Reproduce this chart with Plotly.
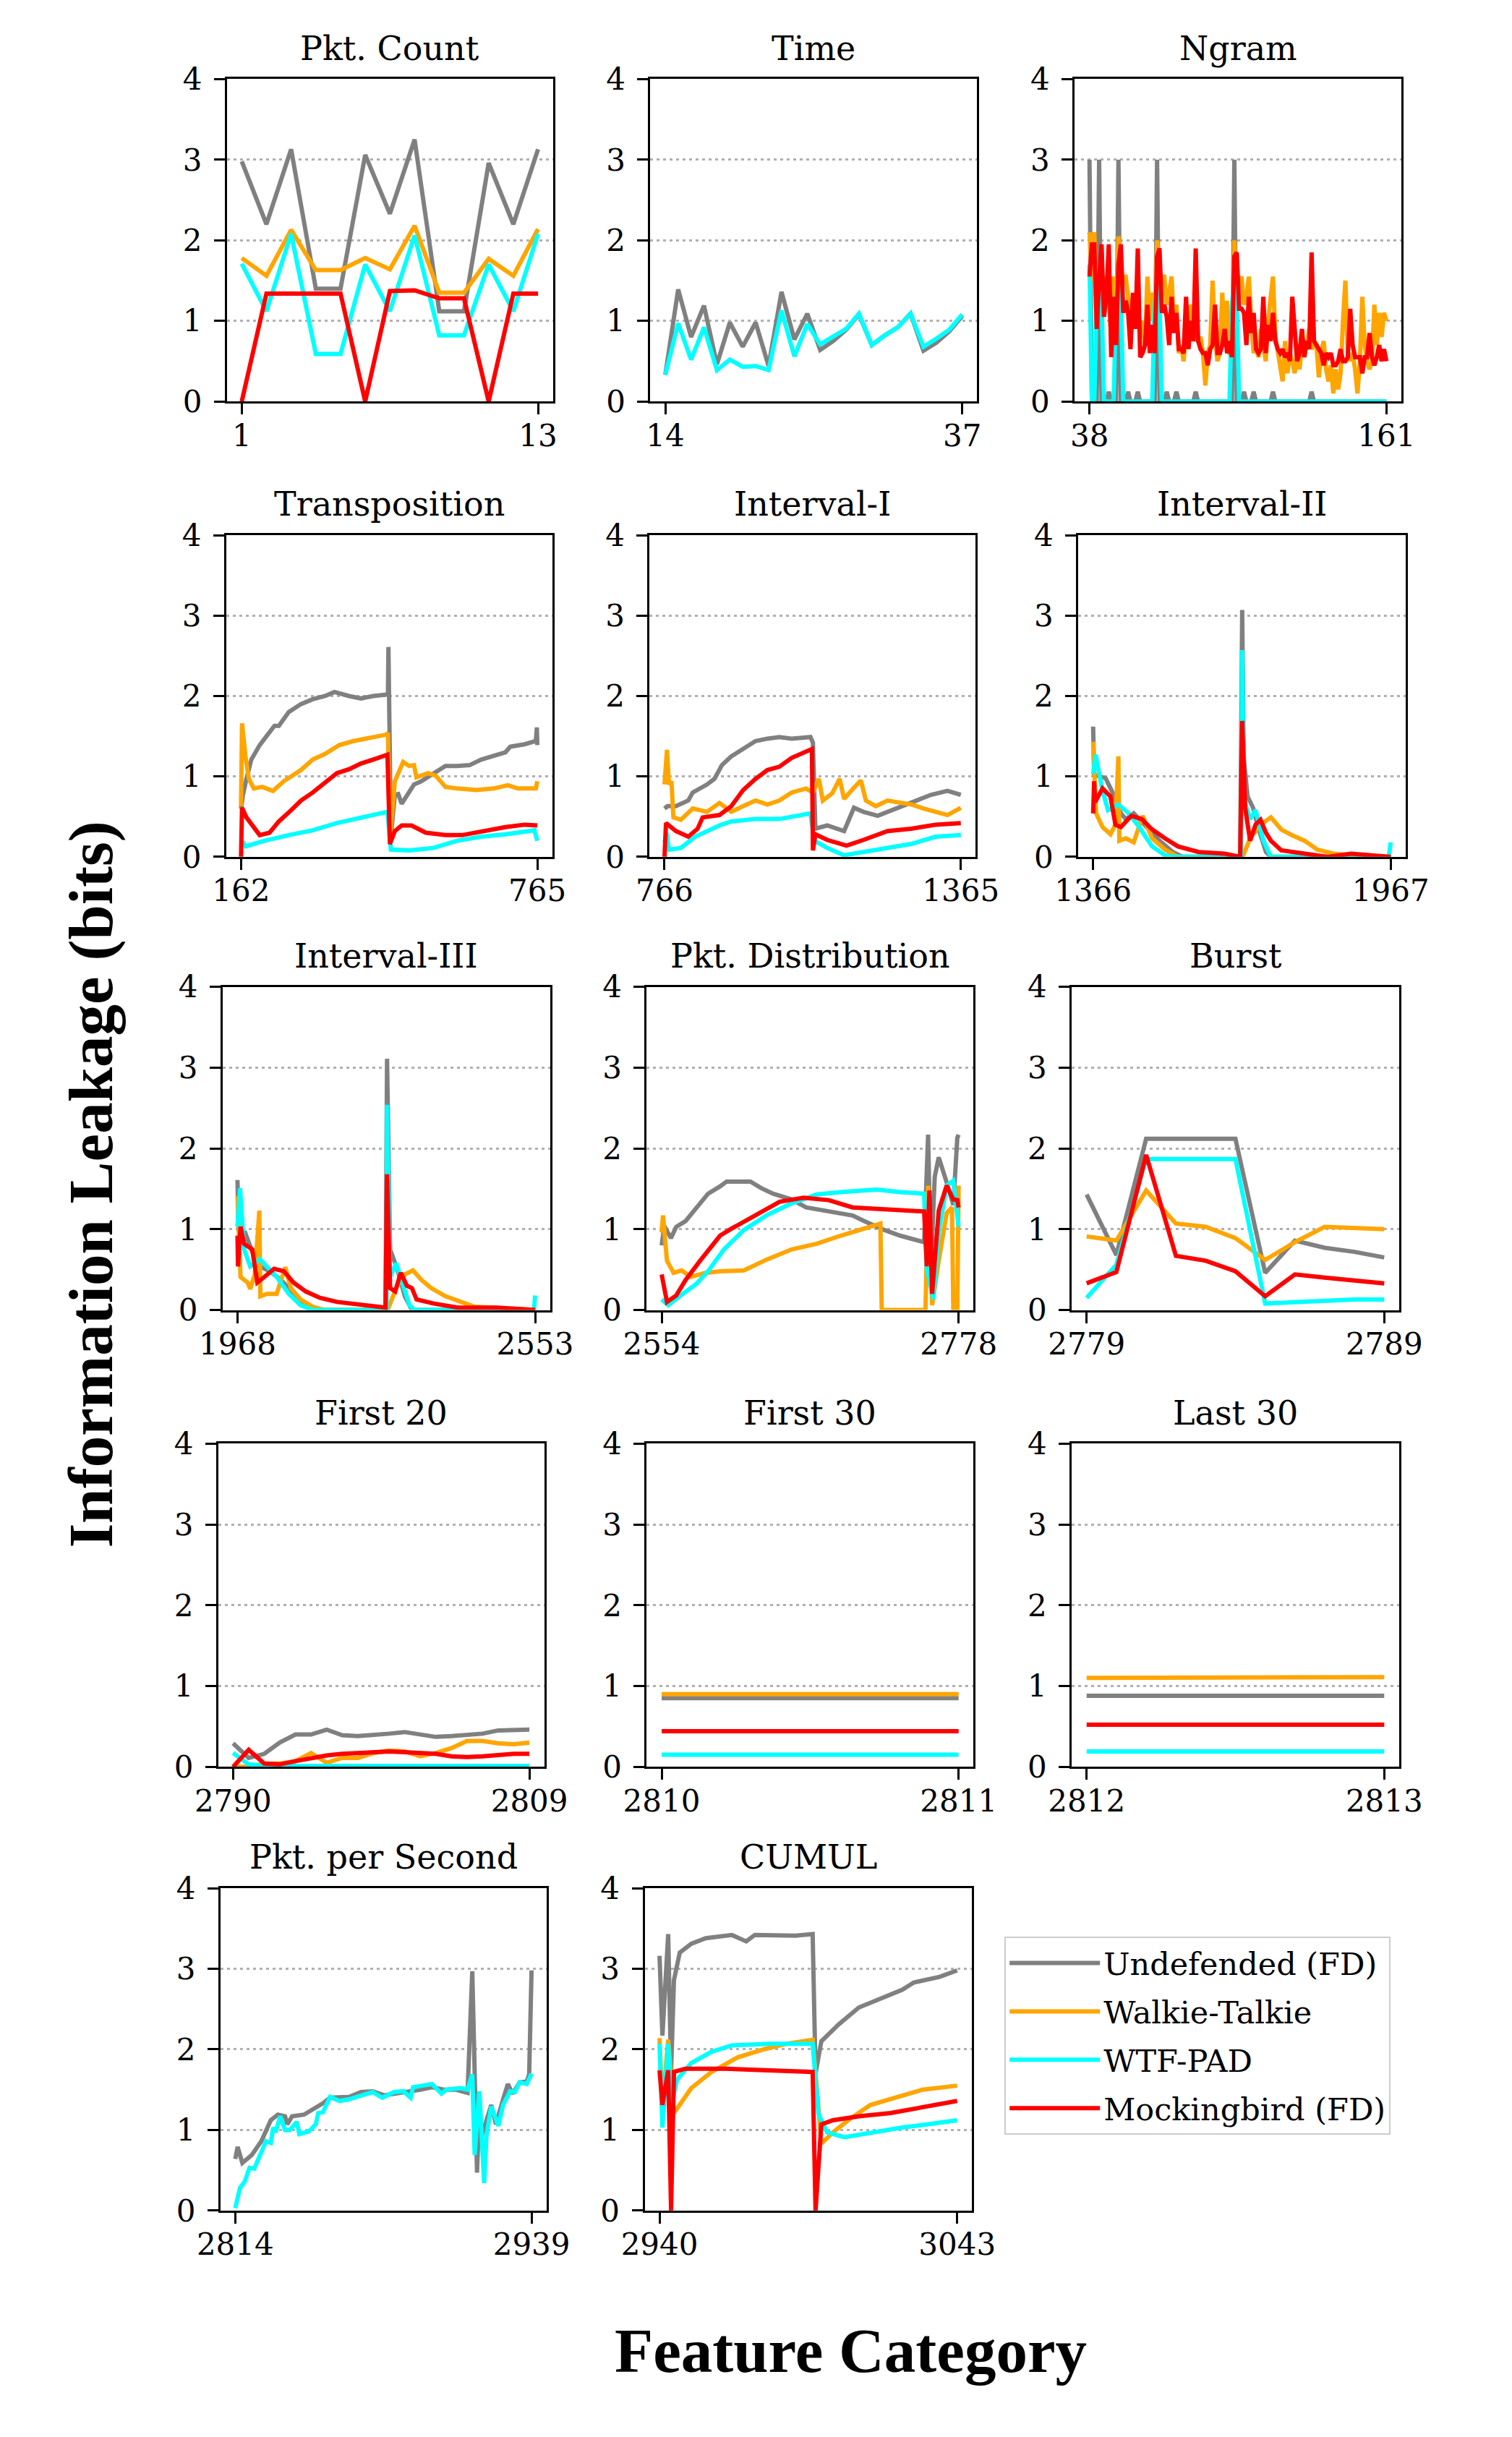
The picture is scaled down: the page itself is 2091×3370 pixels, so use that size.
import plotly.graph_objects as go

W, H = 2091, 3370
NAMES = ['Undefended (FD)', 'Walkie-Talkie', 'WTF-PAD', 'Mockingbird (FD)']
COLORS = ['#808080', '#FFA500', '#00FFFF', '#FF0000']

# ---------------- data ----------------
# Pkt. Count
pc_x = list(range(1, 14))
pc_undef = [2.98, 2.20, 3.13, 1.40, 1.40, 3.06, 2.33, 3.25, 1.12, 1.12, 2.96, 2.20, 3.13]
pc_wt = [1.78, 1.56, 2.13, 1.63, 1.63, 1.78, 1.64, 2.18, 1.35, 1.35, 1.77, 1.56, 2.14]
pc_wtf = [1.71, 1.12, 2.08, 0.59, 0.59, 1.70, 1.12, 2.06, 0.82, 0.82, 1.70, 1.12, 2.08]
pc_mb = [0.00, 1.34, 1.34, 1.34, 1.34, 0.00, 1.37, 1.38, 1.28, 1.28, 0.00, 1.34, 1.34]

# Time
tm_x = list(range(14, 38))
tm_undef = [0.33, 1.39, 0.80, 1.19, 0.46, 0.98, 0.68, 0.98, 0.44, 1.36, 0.77, 1.09,
            0.64, 0.75, 0.89, 1.08, 0.70, 0.82, 0.92, 1.09, 0.63, 0.73, 0.87, 1.06]
tm_wtf = [0.33, 0.97, 0.52, 0.92, 0.39, 0.52, 0.43, 0.44, 0.39, 1.13, 0.56, 0.96,
          0.71, 0.80, 0.90, 1.09, 0.70, 0.82, 0.92, 1.09, 0.68, 0.78, 0.89, 1.08]

# Ngram
ng_x = list(range(38, 162))
ng_undef = [3, 0, 0, 0, 3, 0, 0, 0, 0.12, 0,
            0, 0, 3, 0, 0, 0, 0.12, 0, 0, 0,
            0.12, 0, 0, 0, 0, 0, 0, 0, 3, 0,
            0, 0, 0.12, 0, 0, 0, 0.12, 0, 0, 0,
            0, 0, 0, 0, 0.12, 0, 0, 0, 0, 0,
            0, 0, 0, 0, 0, 0, 0, 0, 0, 0,
            3, 0, 0, 0, 0.12, 0, 0, 0, 0.12, 0,
            0, 0, 0, 0, 0, 0, 0.12, 0, 0, 0,
            0, 0, 0, 0, 0, 0, 0, 0, 0, 0,
            0, 0, 0.12, 0, 0, 0, 0, 0, 0, 0,
            0, 0, 0, 0, 0, 0, 0, 0, 0, 0,
            0, 0, 0, 0, 0, 0, 0, 0, 0, 0,
            0, 0, 0, 0]
ng_wt = [2.10, 1.50, 2.10, 1.20, 1.60, 1.30, 1.10, 1.55, 1.30, 0.80,
         1.55, 1.00, 2.05, 1.50, 1.55, 1.55, 1.30, 0.70, 1.30, 1.10,
         1.20, 0.80, 1.00, 0.70, 1.55, 1.00, 1.35, 0.80, 2.00, 1.60,
         1.55, 1.55, 1.20, 1.35, 1.55, 0.90, 1.20, 0.60, 0.70, 0.50,
         0.90, 0.70, 1.20, 0.75, 0.80, 0.75, 0.80, 0.60, 0.20, 0.60,
         0.70, 1.50, 0.80, 0.50, 0.60, 1.35, 0.70, 1.25, 0.60, 0.60,
         2.00, 1.30, 1.50, 1.55, 1.20, 1.30, 1.55, 1.00, 0.60, 0.70,
         0.55, 0.90, 0.70, 0.50, 1.00, 1.30, 1.55, 0.80, 0.60, 0.40,
         0.25, 0.75, 0.35, 0.60, 0.50, 0.35, 0.60, 0.40, 0.70, 0.60,
         0.70, 0.90, 0.65, 0.70, 0.70, 0.30, 0.60, 0.75, 0.40, 0.25,
         0.45, 0.10, 0.40, 0.15, 0.35, 1.00, 1.50, 0.60, 0.50, 0.60,
         0.40, 0.10, 0.50, 1.30, 0.70, 0.50, 0.40, 0.50, 1.20, 0.70,
         1.10, 0.80, 1.10, 1.00]
ng_wtf = [1.70, 0, 0, 1.30, 1.50, 1.30, 0, 0, 0, 0,
          0, 1.20, 1.50, 1.30, 0, 0, 0, 0, 0, 0,
          0, 0, 0, 0, 0, 0, 0, 1.20, 1.50, 1.20,
          0, 0, 0, 0, 0, 0, 0, 0, 0, 0,
          0, 0, 0, 0, 0, 0, 0, 0, 0, 0,
          0, 0, 0, 0, 0, 0, 0, 0, 0, 1.20,
          1.50, 1.20, 0, 0, 0, 0, 0, 0, 0, 0,
          0, 0, 0, 0, 0, 0, 0, 0, 0, 0,
          0, 0, 0, 0, 0, 0, 0, 0, 0, 0,
          0, 0, 0, 0, 0, 0, 0, 0, 0, 0,
          0, 0, 0, 0, 0, 0, 0, 0, 0, 0,
          0, 0, 0, 0, 0, 0, 0, 0, 0, 0,
          0, 0, 0, 0]
ng_mb = [1.55, 1.95, 1.95, 0.90, 1.50, 1.95, 1.05, 1.30, 1.95, 0.55,
         1.30, 0.70, 1.70, 1.95, 1.10, 1.25, 1.10, 0.65, 1.35, 0.90,
         1.90, 0.55, 0.60, 0.70, 1.20, 0.60, 0.95, 0.60, 1.80, 1.90,
         1.10, 1.20, 1.05, 0.70, 1.30, 0.85, 1.10, 0.65, 0.65, 0.60,
         1.30, 0.65, 1.00, 0.75, 1.90, 0.75, 0.65, 0.60, 0.60, 0.45,
         0.65, 0.70, 1.20, 0.60, 0.60, 0.70, 0.90, 0.60, 0.75, 0.55,
         1.80, 1.85, 1.15, 1.15, 1.10, 0.70, 1.30, 0.85, 1.10, 0.65,
         0.60, 0.65, 1.30, 0.60, 0.95, 0.75, 1.10, 0.75, 0.65, 0.60,
         0.65, 0.55, 0.60, 0.50, 1.30, 0.85, 0.50, 0.60, 0.90, 0.55,
         0.75, 0.65, 1.85, 0.75, 0.70, 0.65, 0.60, 0.45, 0.60, 0.55,
         0.60, 0.45, 0.45, 0.50, 0.65, 0.50, 0.50, 0.55, 1.15, 0.70,
         0.55, 0.55, 0.55, 0.35, 0.55, 0.55, 0.85, 0.55, 0.45, 0.55,
         0.70, 0.50, 0.65, 0.50]

# Transposition
tr_undef_x = [162, 166, 173, 183, 200, 230, 239, 259, 284, 308, 333, 352, 382, 406, 431, 458, 461, 462, 467, 475,
              482, 489, 504, 514, 529, 553, 578, 602, 627, 651, 676, 700, 710, 739, 762, 764, 765]
tr_undef_y = [0.60, 0.77, 0.97, 1.21, 1.39, 1.63, 1.63, 1.80, 1.90, 1.96, 2.00, 2.05, 2.00, 1.97, 2.00, 2.02, 2.02, 2.61, 0.25, 0.77,
              0.78, 0.66, 0.80, 0.90, 0.94, 1.04, 1.13, 1.13, 1.14, 1.21, 1.25, 1.30, 1.37, 1.40, 1.44, 1.61, 1.39]
tr_wt_x = [162, 164, 171, 178, 188, 205, 227, 249, 284, 308, 333, 362, 391, 431, 458, 461, 465, 475, 492, 504,
           514, 519, 543, 558, 578, 602, 641, 676, 705, 725, 762, 765]
tr_wt_y = [0.63, 1.66, 1.25, 0.97, 0.85, 0.87, 0.82, 0.94, 1.08, 1.21, 1.28, 1.39, 1.44, 1.49, 1.52, 1.54, 0.21, 0.94, 1.18, 1.13,
           1.14, 0.99, 1.04, 1.01, 0.87, 0.85, 0.83, 0.85, 0.89, 0.85, 0.85, 0.94]
tr_wtf_x = [162, 166, 171, 210, 259, 308, 357, 406, 460, 467, 504, 553, 602, 651, 700, 759, 765]
tr_wtf_y = [0.20, 0.18, 0.13, 0.20, 0.27, 0.33, 0.42, 0.49, 0.56, 0.09, 0.08, 0.11, 0.20, 0.25, 0.28, 0.33, 0.20]
tr_mb_x = [162, 164, 173, 186, 200, 220, 239, 264, 284, 308, 328, 357, 382, 406, 431, 460, 465, 475, 489, 509,
           538, 578, 612, 651, 700, 739, 762, 765]
tr_mb_y = [0.00, 0.61, 0.49, 0.39, 0.27, 0.30, 0.44, 0.58, 0.70, 0.80, 0.90, 1.04, 1.09, 1.16, 1.21, 1.27, 0.16, 0.32, 0.39, 0.39,
           0.30, 0.27, 0.27, 0.32, 0.37, 0.40, 0.40, 0.39]

# Interval-I
i1_undef_x = [766, 772, 789, 814, 823, 852, 867, 882, 901, 925, 950, 974, 998, 1023, 1061, 1066, 1071, 1095, 1129, 1149,
              1168, 1197, 1217, 1265, 1304, 1338, 1365]
i1_undef_y = [0.60, 0.63, 0.63, 0.70, 0.80, 0.90, 0.97, 1.14, 1.25, 1.35, 1.44, 1.47, 1.49, 1.47, 1.49, 1.42, 0.35, 0.39, 0.32, 0.61,
              0.56, 0.51, 0.56, 0.68, 0.77, 0.82, 0.77]
i1_wt_x = [766, 771, 775, 780, 784, 799, 823, 852, 877, 901, 925, 950, 974, 998, 1023, 1052, 1066, 1078, 1086, 1105,
           1120, 1129, 1149, 1163, 1173, 1193, 1217, 1241, 1266, 1290, 1314, 1338, 1365]
i1_wt_y = [0.90, 1.33, 0.90, 0.94, 0.49, 0.46, 0.60, 0.56, 0.67, 0.56, 0.63, 0.70, 0.65, 0.70, 0.80, 0.85, 0.80, 0.97, 0.70, 0.79,
           0.97, 0.72, 0.86, 0.95, 0.70, 0.63, 0.70, 0.67, 0.65, 0.60, 0.56, 0.52, 0.61]
i1_wtf_x = [766, 770, 775, 799, 828, 852, 877, 901, 950, 998, 1061, 1069, 1095, 1129, 1168, 1217, 1265, 1314, 1365]
i1_wtf_y = [0.18, 0.30, 0.09, 0.11, 0.25, 0.32, 0.39, 0.44, 0.47, 0.47, 0.54, 0.20, 0.11, 0.02, 0.06, 0.11, 0.16, 0.25, 0.27]
i1_mb_x = [766, 769, 789, 814, 833, 843, 877, 901, 925, 950, 974, 998, 1023, 1047, 1064, 1066, 1071, 1095, 1134, 1168,
           1217, 1265, 1314, 1365]
i1_mb_y = [0.00, 0.42, 0.32, 0.25, 0.35, 0.49, 0.52, 0.63, 0.83, 0.97, 1.08, 1.12, 1.23, 1.29, 1.34, 0.08, 0.28, 0.21, 0.14, 0.21,
           0.32, 0.35, 0.40, 0.42]

# Interval-II
i2_undef_x = [1366, 1368, 1391, 1406, 1422, 1432, 1448, 1474, 1500, 1527, 1547, 1663, 1667, 1670, 1678, 1689, 1699, 1715, 1725, 1967]
i2_undef_y = [1.62, 1.02, 0.98, 0.79, 0.54, 0.47, 0.54, 0.37, 0.20, 0.06, 0.00, 0.00, 3.07, 1.24, 0.75, 0.61, 0.37, 0.06, 0.00, 0.00]
i2_wt_x = [1366, 1372, 1385, 1401, 1411, 1417, 1419, 1432, 1448, 1466, 1485, 1511, 1537, 1668, 1683, 1704, 1725, 1746, 1767, 1793,
           1819, 1851, 1893, 1967]
i2_wt_y = [1.43, 0.54, 0.37, 0.28, 0.40, 1.25, 0.20, 0.23, 0.18, 0.51, 0.23, 0.09, 0.00, 0.00, 0.23, 0.40, 0.49, 0.34, 0.27, 0.20,
           0.09, 0.04, 0.02, 0.00]
i2_wtf_x = [1366, 1371, 1385, 1396, 1417, 1438, 1459, 1485, 1511, 1532, 1665, 1667, 1670, 1683, 1694, 1710, 1725, 1963, 1967]
i2_wtf_y = [1.03, 1.27, 0.82, 0.58, 0.65, 0.54, 0.37, 0.13, 0.02, 0.00, 0.00, 2.57, 0.72, 0.47, 0.58, 0.20, 0.00, 0.00, 0.18]
i2_mb_x = [1366, 1368, 1370, 1385, 1401, 1411, 1422, 1443, 1464, 1485, 1511, 1537, 1579, 1631, 1663, 1667, 1673, 1683, 1694, 1704,
           1715, 1725, 1746, 1788, 1840, 1887, 1967]
i2_mb_y = [0.54, 0.94, 0.68, 0.85, 0.75, 0.40, 0.37, 0.51, 0.47, 0.34, 0.23, 0.13, 0.06, 0.04, 0.00, 1.69, 0.61, 0.20, 0.40, 0.46,
           0.30, 0.20, 0.08, 0.04, 0.00, 0.04, 0.00]

# Interval-III
i3_undef_x = [1968, 1970, 1983, 1997, 2012, 2031, 2054, 2083, 2107, 2130, 2259, 2262, 2268, 2282, 2297, 2311, 2553]
i3_undef_y = [1.61, 0.99, 0.96, 0.72, 0.54, 0.48, 0.37, 0.17, 0.03, 0.00, 0.00, 3.11, 0.75, 0.51, 0.17, 0.00, 0.00]
i3_wt_x = [1968, 1974, 1988, 1993, 2002, 2011, 2013, 2026, 2045, 2062, 2073, 2092, 2116, 2140, 2263, 2282, 2297, 2313, 2330, 2349,
           2377, 2406, 2434, 2472, 2553]
i3_wt_y = [1.41, 0.41, 0.34, 0.26, 0.44, 1.23, 0.17, 0.20, 0.20, 0.53, 0.27, 0.13, 0.04, 0.00, 0.00, 0.30, 0.44, 0.49, 0.37, 0.27,
           0.17, 0.10, 0.04, 0.03, 0.00]
i3_wtf_x = [1968, 1973, 1981, 1993, 2012, 2026, 2045, 2069, 2092, 2116, 2261, 2262, 2268, 2280, 2292, 2306, 2316, 2551, 2553]
i3_wtf_y = [1.03, 1.51, 0.75, 0.54, 0.63, 0.54, 0.41, 0.20, 0.06, 0.00, 0.00, 2.54, 0.41, 0.58, 0.34, 0.06, 0.00, 0.00, 0.18]
i3_mb_x = [1968, 1969, 1974, 1981, 1997, 2007, 2021, 2040, 2059, 2078, 2102, 2130, 2164, 2211, 2259, 2262, 2268, 2278, 2289, 2301,
           2311, 2320, 2354, 2401, 2477, 2553]
i3_mb_y = [0.92, 0.54, 1.03, 0.82, 0.75, 0.34, 0.41, 0.51, 0.48, 0.34, 0.23, 0.15, 0.10, 0.06, 0.03, 1.68, 0.27, 0.23, 0.46, 0.30,
           0.27, 0.13, 0.08, 0.03, 0.03, 0.00]

# Pkt. Distribution
pd_undef_x = [2554, 2556, 2561, 2565, 2572, 2580, 2589, 2598, 2603, 2621, 2629, 2638, 2652, 2663, 2680, 2698, 2707, 2722, 2734, 2752,
              2755, 2757, 2760, 2763, 2769, 2774, 2777, 2778]
pd_undef_y = [0.80, 1.04, 0.89, 1.03, 1.10, 1.27, 1.44, 1.53, 1.59, 1.59, 1.51, 1.44, 1.37, 1.27, 1.22, 1.17, 1.10, 0.99, 0.92, 0.84,
              2.17, 0.51, 1.65, 1.89, 1.58, 1.30, 2.13, 2.17]
pd_wt_x = [2554, 2555, 2558, 2563, 2569, 2576, 2587, 2598, 2616, 2634, 2652, 2671, 2689, 2707, 2719, 2720, 2753, 2755, 2758, 2763,
           2769, 2773, 2774, 2777, 2778]
pd_wt_y = [0.96, 1.17, 0.61, 0.46, 0.49, 0.41, 0.46, 0.48, 0.49, 0.63, 0.75, 0.82, 0.92, 1.01, 1.07, 0.00, 0.00, 1.54, 0.06, 0.61,
           1.20, 1.27, 0.00, 0.00, 1.54]
pd_wtf_x = [2554, 2559, 2570, 2580, 2589, 2601, 2616, 2634, 2652, 2671, 2689, 2716, 2734, 2752, 2754, 2759, 2763, 2769, 2774, 2778]
pd_wtf_y = [0.13, 0.06, 0.20, 0.32, 0.48, 0.75, 0.99, 1.18, 1.32, 1.43, 1.46, 1.49, 1.46, 1.44, 0.51, 0.13, 0.96, 1.54, 1.60, 1.03]
pd_mb_x = [2554, 2558, 2565, 2572, 2583, 2598, 2607, 2625, 2643, 2661, 2680, 2698, 2716, 2734, 2752, 2754, 2756, 2758, 2763, 2769,
           2774, 2777, 2778]
pd_mb_y = [0.44, 0.10, 0.18, 0.37, 0.61, 0.92, 1.01, 1.17, 1.34, 1.39, 1.36, 1.27, 1.25, 1.23, 1.22, 0.54, 1.48, 0.20, 1.23, 1.54,
           1.37, 1.36, 1.27]

# Burst
bu_x = list(range(2779, 2790))
bu_undef = [1.43, 0.68, 2.12, 2.12, 2.12, 2.12, 0.46, 0.86, 0.77, 0.72, 0.65]
bu_wt = [0.91, 0.86, 1.48, 1.07, 1.03, 0.89, 0.62, 0.84, 1.03, 1.02, 1.00]
bu_wtf = [0.15, 0.56, 1.87, 1.87, 1.87, 1.87, 0.08, 0.10, 0.12, 0.13, 0.13]
bu_mb = [0.33, 0.47, 1.92, 0.67, 0.61, 0.48, 0.17, 0.44, 0.40, 0.37, 0.33]

# First 20
f20_x = list(range(2790, 2810))
f20_undef = [0.29, 0.11, 0.16, 0.30, 0.40, 0.40, 0.46, 0.39, 0.38, 0.39,
             0.41, 0.43, 0.40, 0.37, 0.38, 0.39, 0.41, 0.45, 0.46, 0.46]
f20_wt = [0.00, 0.00, 0.04, 0.04, 0.07, 0.17, 0.05, 0.11, 0.11, 0.17,
          0.20, 0.19, 0.13, 0.17, 0.23, 0.32, 0.32, 0.29, 0.28, 0.30]
f20_wtf = [0.17, 0.03, 0.01, 0.01, 0.01, 0.01, 0.01, 0.01, 0.01, 0.01,
           0.01, 0.01, 0.01, 0.01, 0.01, 0.01, 0.01, 0.01, 0.01, 0.01]
f20_mb = [0.00, 0.21, 0.04, 0.03, 0.07, 0.11, 0.14, 0.16, 0.17, 0.18,
          0.19, 0.18, 0.17, 0.16, 0.13, 0.12, 0.13, 0.15, 0.16, 0.16]

# First 30
f30_x = [2810, 2811]
f30_undef = [0.85, 0.85]
f30_wt = [0.90, 0.90]
f30_wtf = [0.15, 0.15]
f30_mb = [0.44, 0.44]

# Last 30
l30_x = [2812, 2813]
l30_undef = [0.88, 0.88]
l30_wt = [1.10, 1.11]
l30_wtf = [0.19, 0.19]
l30_mb = [0.52, 0.52]

# Pkt. per Second
pps_undef_x = [2814, 2815, 2817, 2821, 2825, 2827, 2829, 2832, 2835, 2836, 2838, 2843, 2846, 2851, 2854, 2862, 2867, 2872, 2877, 2882,
               2887, 2892, 2897, 2902, 2907, 2912, 2914, 2915, 2916, 2917, 2918, 2922, 2924, 2927, 2929, 2931, 2934, 2937, 2938, 2939]
pps_undef_y = [0.64, 0.79, 0.59, 0.69, 0.86, 0.98, 1.12, 1.19, 1.17, 1.07, 1.17, 1.19, 1.24, 1.33, 1.40, 1.41, 1.47, 1.48, 1.43, 1.45,
               1.47, 1.50, 1.53, 1.50, 1.50, 1.46, 2.97, 1.55, 0.47, 1.28, 0.93, 1.31, 1.07, 1.38, 1.57, 1.45, 1.59, 1.60, 1.69, 2.98]
pps_wtf_x = [2814, 2816, 2818, 2820, 2822, 2825, 2827, 2829, 2830, 2831, 2833, 2835, 2837, 2840, 2841, 2845, 2848, 2849, 2851, 2854,
             2858, 2862, 2867, 2872, 2876, 2881, 2885, 2888, 2889, 2892, 2897, 2901, 2903, 2909, 2912, 2914, 2915, 2917, 2919, 2920,
             2922, 2925, 2927, 2930, 2932, 2934, 2937, 2939]
pps_wtf_y = [0.03, 0.28, 0.36, 0.53, 0.52, 0.72, 0.86, 0.84, 1.03, 0.97, 1.17, 1.00, 1.00, 1.10, 0.95, 0.98, 1.07, 1.21, 1.22, 1.41,
             1.36, 1.38, 1.43, 1.47, 1.40, 1.47, 1.48, 1.40, 1.53, 1.55, 1.57, 1.45, 1.50, 1.52, 1.50, 1.69, 0.69, 1.48, 0.34, 0.93,
             1.29, 1.05, 1.31, 1.48, 1.47, 1.59, 1.57, 1.70]

# CUMUL
cu_undef_x = [2940, 2941, 2943, 2944, 2945, 2947, 2951, 2956, 2965, 2970, 2973, 2987, 2993, 2994, 2996, 3002, 3009, 3018, 3024, 3028,
              3037, 3043]
cu_undef_y = [3.16, 2.17, 3.43, 1.72, 2.86, 3.20, 3.31, 3.38, 3.42, 3.34, 3.42, 3.41, 3.43, 1.70, 2.10, 2.31, 2.52, 2.66, 2.74, 2.83,
              2.90, 2.98]
cu_wt_x = [2940, 2941, 2943, 2944, 2945, 2951, 2958, 2967, 2976, 2984, 2993, 2995, 2996, 3000, 3006, 3013, 3022, 3031, 3043]
cu_wt_y = [2.14, 1.28, 2.12, 1.60, 1.21, 1.52, 1.72, 1.90, 2.00, 2.07, 2.12, 1.28, 0.83, 0.97, 1.14, 1.31, 1.41, 1.50, 1.55]
cu_wtf_x = [2940, 2941, 2943, 2944, 2946, 2951, 2958, 2965, 2978, 2993, 2995, 2998, 3004, 3013, 3024, 3033, 3043]
cu_wtf_y = [2.07, 1.03, 2.07, 1.28, 1.62, 1.83, 1.97, 2.05, 2.07, 2.07, 1.20, 0.97, 0.91, 0.97, 1.03, 1.07, 1.12]
cu_mb_x = [2940, 2941, 2943, 2944, 2945, 2949, 2963, 2982, 2993, 2994, 2996, 3000, 3009, 3020, 3031, 3043]
cu_mb_y = [1.74, 1.31, 1.74, 0.00, 1.72, 1.76, 1.76, 1.74, 1.72, 0.00, 1.07, 1.12, 1.17, 1.21, 1.28, 1.36]

TITLES = ['Pkt. Count', 'Time', 'Ngram', 'Transposition', 'Interval-I', 'Interval-II',
          'Interval-III', 'Pkt. Distribution', 'Burst', 'First 20', 'First 30', 'Last 30',
          'Pkt. per Second', 'CUMUL']
X_ENDS = [(1, 13), (14, 37), (38, 161), (162, 765), (766, 1365), (1366, 1967),
          (1968, 2553), (2554, 2778), (2779, 2789), (2790, 2809), (2810, 2811), (2812, 2813),
          (2814, 2939), (2940, 3043)]
Y_TICKS = [0, 1, 2, 3, 4]

# series per panel: (series index, x, y)
SERIES = [
    [(0, pc_x, pc_undef), (1, pc_x, pc_wt), (2, pc_x, pc_wtf), (3, pc_x, pc_mb)],
    [(0, tm_x, tm_undef), (2, tm_x, tm_wtf)],
    [(0, ng_x, ng_undef), (1, ng_x, ng_wt), (2, ng_x, ng_wtf), (3, ng_x, ng_mb)],
    [(0, tr_undef_x, tr_undef_y), (1, tr_wt_x, tr_wt_y), (2, tr_wtf_x, tr_wtf_y), (3, tr_mb_x, tr_mb_y)],
    [(0, i1_undef_x, i1_undef_y), (1, i1_wt_x, i1_wt_y), (2, i1_wtf_x, i1_wtf_y), (3, i1_mb_x, i1_mb_y)],
    [(0, i2_undef_x, i2_undef_y), (1, i2_wt_x, i2_wt_y), (2, i2_wtf_x, i2_wtf_y), (3, i2_mb_x, i2_mb_y)],
    [(0, i3_undef_x, i3_undef_y), (1, i3_wt_x, i3_wt_y), (2, i3_wtf_x, i3_wtf_y), (3, i3_mb_x, i3_mb_y)],
    [(0, pd_undef_x, pd_undef_y), (1, pd_wt_x, pd_wt_y), (2, pd_wtf_x, pd_wtf_y), (3, pd_mb_x, pd_mb_y)],
    [(0, bu_x, bu_undef), (1, bu_x, bu_wt), (2, bu_x, bu_wtf), (3, bu_x, bu_mb)],
    [(0, f20_x, f20_undef), (1, f20_x, f20_wt), (2, f20_x, f20_wtf), (3, f20_x, f20_mb)],
    [(0, f30_x, f30_undef), (1, f30_x, f30_wt), (2, f30_x, f30_wtf), (3, f30_x, f30_mb)],
    [(0, l30_x, l30_undef), (1, l30_x, l30_wt), (2, l30_x, l30_wtf), (3, l30_x, l30_mb)],
    [(0, pps_undef_x, pps_undef_y), (2, pps_wtf_x, pps_wtf_y)],
    [(0, cu_undef_x, cu_undef_y), (1, cu_wt_x, cu_wt_y), (2, cu_wtf_x, cu_wtf_y), (3, cu_mb_x, cu_mb_y)],
]

# ---------------- layout geometry ----------------
# target pixel boxes (left, right) per column and (top, bottom) per row,
# mapped to paper coordinates with a small calibration for the page capture
CAL_X = (31.0, 0.969)
CAL_Y = (22.5, 0.986)


def px(xp):
    return (xp - CAL_X[0]) / CAL_X[1] / W


def py(yp):
    return 1 - (yp - CAL_Y[0]) / CAL_Y[1] / H


ROWS = [(108, 554), (739, 1184), (1364, 1811), (1996, 2443), (2611, 3057)]
COLS = [[(312, 763), (898, 1350), (1485, 1937)],
        [(311, 762), (897, 1348), (1490, 1943)],
        [(306, 759), (893, 1345), (1481, 1934)],
        [(300, 751), (893, 1345), (1481, 1934)],
        [(303, 754), (890, 1343)]]
BOXES = []
for (top, bot), cols in zip(ROWS, COLS):
    for (l, r) in cols:
        BOXES.append((l, r, top, bot))

SERIF = 'DejaVu Serif'
TICK_FONT = dict(family=SERIF, size=42, color='black')
LW = 6

fig = go.Figure()
layout = {}
annotations = []
shown = set()

for i, (title, (a, b), series, box) in enumerate(zip(TITLES, X_ENDS, SERIES, BOXES)):
    n = i + 1
    xa = 'x' if n == 1 else f'x{n}'
    ya = 'y' if n == 1 else f'y{n}'
    for s, xs, ys in series:
        fig.add_trace(go.Scatter(
            x=xs, y=ys, mode='lines', name=NAMES[s], legendgroup=NAMES[s],
            showlegend=(s not in shown), line=dict(color=COLORS[s], width=LW),
            xaxis=xa, yaxis=ya, hoverinfo='skip'))
        shown.add(s)
    l, r, t, btm = box
    pad = 0.05 * (b - a)
    common = dict(showline=True, linecolor='black', linewidth=3, mirror=True,
                  ticks='outside', ticklen=15, tickwidth=3, tickcolor='black',
                  tickfont=TICK_FONT, zeroline=False)
    layout['xaxis' if n == 1 else f'xaxis{n}'] = dict(
        domain=[px(l), px(r)], anchor=ya, range=[a - pad, b + pad],
        tickvals=[a, b], ticktext=[str(a), str(b)], showgrid=False,
        ticklabelstandoff=-7, **common)
    layout['yaxis' if n == 1 else f'yaxis{n}'] = dict(
        domain=[py(btm), py(t)], anchor=xa, range=[0, 4],
        tickvals=Y_TICKS, showgrid=True, gridcolor='#b0b0b0', gridwidth=3,
        griddash='4px,5px', ticklabelstandoff=8, **common)
    annotations.append(dict(
        text=title, x=(px(l) + px(r)) / 2, y=py(t) + 14 / H, xref='paper', yref='paper',
        xanchor='center', yanchor='bottom', showarrow=False,
        font=dict(family=SERIF, size=46, color='black')))

annotations.append(dict(
    text='<b>Information Leakage (bits)</b>', x=px(124), y=py(1637), xref='paper', yref='paper',
    xanchor='center', yanchor='middle', textangle=-90, showarrow=False,
    font=dict(family='Liberation Serif', size=87, color='black')))
annotations.append(dict(
    text='<b>Feature Category</b>', x=px(1175), y=py(3251), xref='paper', yref='paper',
    xanchor='center', yanchor='middle', showarrow=False,
    font=dict(family='Liberation Serif', size=87, color='black')))

layout.update(
    width=W, height=H, margin=dict(l=0, r=0, t=0, b=0),
    paper_bgcolor='white', plot_bgcolor='white',
    annotations=annotations,
    legend=dict(x=px(1388), y=py(2678), xanchor='left', yanchor='top',
                font=dict(family=SERIF, size=43, color='black'),
                bgcolor='rgba(255,255,255,0.9)', bordercolor='#cccccc', borderwidth=2,
                tracegroupgap=8, itemwidth=125, traceorder='grouped'),
    showlegend=True,
)
fig.update_layout(**layout)
fig.write_html('out.html')
